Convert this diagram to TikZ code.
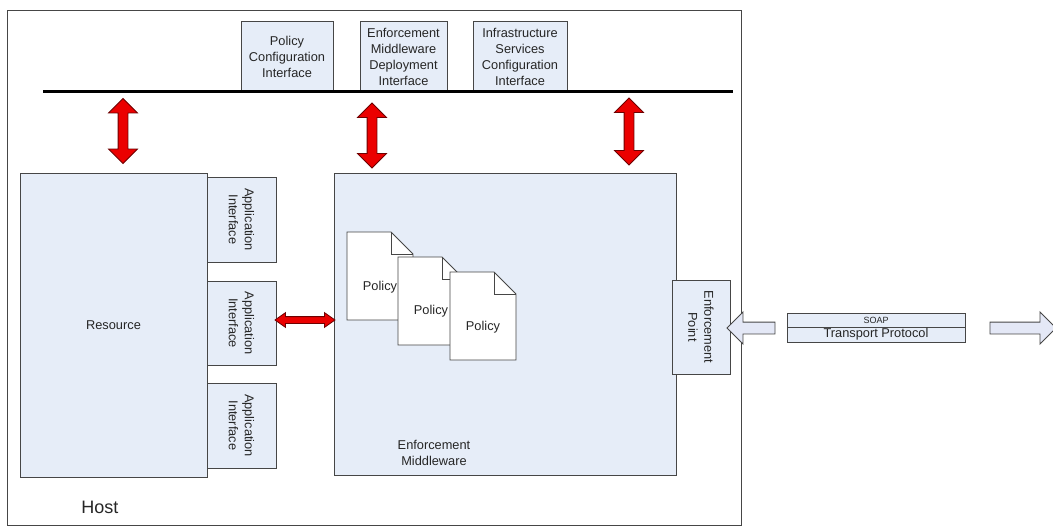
\documentclass[tikz,border=0pt]{standalone}
\usepackage{fontspec}
\setmainfont{Liberation Sans}
\usetikzlibrary{shapes.arrows}

\definecolor{boxfill}{RGB}{230,237,248}
\definecolor{boxline}{RGB}{70,70,70}
\definecolor{arrowred}{RGB}{235,0,0}
\definecolor{arrowdark}{RGB}{110,0,0}
\definecolor{hollowfill}{RGB}{228,232,246}

\tikzset{
  every node/.style={font=\fontsize{12.8}{16}\selectfont, text=black!85},
  box/.style={draw=boxline, fill=boxfill, line width=0.9pt, inner sep=0pt, align=center},
  sidebox/.style={box, minimum width=69pt},
  vtext/.style={rotate=-90, align=center, inner sep=0pt},
  redarrow/.style={double arrow, draw=arrowdark, fill=arrowred, line width=0.8pt,
    inner xsep=0pt, inner ysep=4.5pt, double arrow head extend=9.5pt, double arrow tip angle=90},
  hollowarrow/.style={single arrow, draw=boxline, fill=hollowfill, line width=0.9pt,
    inner xsep=0pt, inner ysep=5.5pt, single arrow head extend=10pt, single arrow tip angle=90},
  docpage/.style={draw=boxline, fill=white, line width=0.9pt},
  doctext/.style={inner sep=0pt}
}

\begin{document}
\begin{tikzpicture}[x=1pt, y=-1pt]
\useasboundingbox (0,0) rectangle (1053,527);

% host frame
\node[draw=boxline, fill=white, line width=0.9pt, minimum width=734pt, minimum height=515pt, inner sep=0pt]
  (host) at (374,267.5) {};
\node[font=\fontsize{18}{20}\selectfont, inner sep=0pt] (hostlabel) at (100,507) {Host};

% configuration interfaces on the bus
\node[box, minimum width=92pt, minimum height=71pt] (pci) at (287,56.5)
  {Policy\\Configuration\\Interface};
\node[box, minimum width=87pt, minimum height=71pt] (emdi) at (403.5,56.5)
  {Enforcement\\Middleware\\Deployment\\Interface};
\node[box, minimum width=94pt, minimum height=71pt] (isci) at (520,56.5)
  {Infrastructure\\Services\\Configuration\\Interface};

% management bus
\coordinate (busL) at (43,92);
\coordinate (busR) at (733,92);
\draw[line width=3pt, black] (busL) -- (busR);

% resource with its application interfaces
\node[box, minimum width=187pt, minimum height=304pt] (res) at (113.5,325) {Resource};
\node[sidebox, minimum height=85pt] (app1) at (241.5,219.5) {};
\node[vtext] at (app1) {Application\\Interface};
\node[sidebox, minimum height=84pt] (app2) at (241.5,323) {};
\node[vtext] at (app2) {Application\\Interface};
\node[sidebox, minimum height=85pt] (app3) at (241.5,425.5) {};
\node[vtext] at (app3) {Application\\Interface};

% enforcement middleware
\node[box, minimum width=342pt, minimum height=302pt] (emw) at (505,324) {};
\node[align=center, inner sep=0pt] (emwlabel) at (434,453) {Enforcement\\Middleware};

% policy documents
\draw[docpage] (347,232) -- (391,232) -- (413,254) -- (413,320) -- (347,320) -- cycle;
\draw[boxline, line width=0.9pt] (391,232) -- (391,254) -- (413,254);
\node[doctext] (pol1) at (380,287) {Policy};
\draw[docpage] (398,257) -- (442,257) -- (464,279) -- (464,345) -- (398,345) -- cycle;
\draw[boxline, line width=0.9pt] (442,257) -- (442,279) -- (464,279);
\node[doctext] (pol2) at (431,311) {Policy};
\draw[docpage] (450,272) -- (494,272) -- (516,294) -- (516,360) -- (450,360) -- cycle;
\draw[boxline, line width=0.9pt] (494,272) -- (494,294) -- (516,294);
\node[doctext] (pol3) at (483,327) {Policy};

% enforcement point
\node[box, minimum width=58pt, minimum height=94pt] (ep) at (701,327) {};
\node[vtext] at (ep) {Enforcement\\Point};

% red links between bus, resource and middleware
\node[redarrow, minimum height=65pt, rotate=90] (lk1) at (123,131) {};
\node[redarrow, minimum height=65pt, rotate=90] (lk2) at (372,135.5) {};
\node[redarrow, minimum height=67pt, rotate=90] (lk3) at (629,131.5) {};
\node[redarrow, minimum height=60pt, inner ysep=3pt, double arrow head extend=4pt, double arrow tip angle=70]
  (lk4) at (305,320) {};

% message stack and transfer arrows
\node[box, minimum width=178pt, minimum height=14pt, font=\fontsize{9}{10}\selectfont] (soap) at (876,320) {SOAP};
\node[box, minimum width=178pt, minimum height=15pt] (tp) at (876,334.5) {Transport Protocol};
\node[hollowarrow, minimum height=48pt, rotate=180] (inarrow) at (754,328) {};
\node[hollowarrow, minimum height=66pt] (outarrow) at (1020,328) {};
\end{tikzpicture}
\end{document}
